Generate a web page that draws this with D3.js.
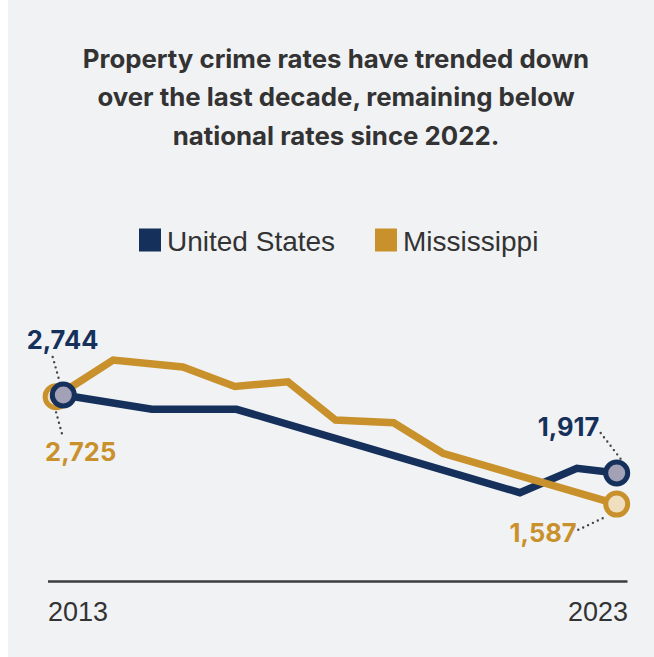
<!DOCTYPE html>
<html>
<head>
<meta charset="utf-8">
<script src="https://cdn.jsdelivr.net/npm/d3@7"></script>
<style>
  html, body { margin: 0; padding: 0; background: #ffffff; }
  svg { display: block; }
</style>
</head>
<body>
<svg id="chart" width="654" height="657"></svg>
<script>
// Property crime rate per 100,000 residents
const titleLines = [
  "Property crime rates have trended down",
  "over the last decade, remaining below",
  "national rates since 2022."
];
const seriesNames = ["United States", "Mississippi"];
const axisYears = [2013, 2023];

// United States: year position and rate at each vertex
const usYears = [2013, 2014.6, 2016.13, 2021.25, 2022.28, 2023];
const usRates = [2744, 2592, 2592, 1708, 1967, 1917];

// Mississippi: year position and rate at each vertex
const msYears = [2012.87, 2013.9, 2015.16, 2016.1, 2017.06, 2017.92, 2018.97, 2019.86, 2023];
const msRates = [2725, 3114, 3040, 2834, 2884, 2478, 2450, 2126, 1587];

const NAVY = "#15305a";
const GOLD = "#c9912b";
const TEXT = "#333333";

const svg = d3.select("#chart");

// panel background
svg.append("rect").attr("x", 8).attr("y", 0).attr("width", 646).attr("height", 657).attr("fill", "#f1f2f4");

// title
const title = svg.append("text")
  .attr("text-anchor", "middle")
  .attr("font-family", "Inter, 'DejaVu Sans', sans-serif")
  .attr("font-weight", 700)
  .attr("font-size", 25.8)
  .attr("fill", TEXT);
titleLines.forEach((t, i) => {
  title.append("tspan").attr("x", 336).attr("y", 67.5 + i * 38.6).text(t);
});

// legend
const legendItems = [
  { name: seriesNames[0], color: NAVY, x: 139 },
  { name: seriesNames[1], color: GOLD, x: 375 }
];
const legend = svg.append("g");
legendItems.forEach(d => {
  legend.append("rect").attr("x", d.x).attr("y", 228.5).attr("width", 22).attr("height", 23).attr("fill", d.color);
  legend.append("text")
    .attr("x", d.x + 28).attr("y", 251)
    .attr("font-family", "'Liberation Sans', Arial, sans-serif")
    .attr("font-size", 28)
    .attr("fill", TEXT)
    .text(d.name);
});

// scales
const x = d3.scaleLinear().domain([2013, 2023]).range([63.3, 616.7]);
const y = d3.scaleLinear().domain([1000, 3000]).range([559.5, 370.8]);

// baseline axis
const axisY = 581.5;
svg.append("line")
  .attr("x1", 48).attr("x2", 627.5).attr("y1", axisY).attr("y2", axisY)
  .attr("stroke", "#3d3d3d").attr("stroke-width", 2.5);
svg.selectAll("text.year")
  .data(axisYears)
  .join("text")
  .attr("class", "year")
  .attr("x", (d, i) => i === 0 ? 48 : 628)
  .attr("y", 620.5)
  .attr("text-anchor", (d, i) => i === 0 ? "start" : "end")
  .attr("font-family", "'Liberation Sans', Arial, sans-serif")
  .attr("font-size", 27)
  .attr("fill", TEXT)
  .text(d => d);

const us = usYears.map((yr, i) => ({ year: yr, rate: usRates[i] }));
const ms = msYears.map((yr, i) => ({ year: yr, rate: msRates[i] }));

const line = d3.line().x(d => x(d.year)).y(d => y(d.rate));

// leader dots from labels to end points
const usFirst = us[0], usLast = us[us.length - 1];
const msFirst = ms[0], msLast = ms[ms.length - 1];
const leaders = [
  { p: usFirst, a: [-10.6, -38], b: [0, 0] },
  { p: msFirst, a: [-4.3, 0], b: [6.7, 40] },
  { p: usLast, a: [-16, -40], b: [4.3, -13.7] },
  { p: msLast, a: [-38.4, 25.7], b: [-10.7, 12.5] }
];
svg.append("g").selectAll("line")
  .data(leaders)
  .join("line")
  .attr("x1", d => x(d.p.year) + d.a[0])
  .attr("y1", d => y(d.p.rate) + d.a[1])
  .attr("x2", d => x(d.p.year) + d.b[0])
  .attr("y2", d => y(d.p.rate) + d.b[1])
  .attr("stroke", "#444")
  .attr("stroke-width", 2.4)
  .attr("stroke-linecap", "round")
  .attr("stroke-dasharray", "0 5.4");

// series lines
svg.append("path").datum(us)
  .attr("d", line).attr("fill", "none")
  .attr("stroke", NAVY).attr("stroke-width", 7.5)
  .attr("stroke-linejoin", "miter");
svg.append("path").datum(ms)
  .attr("d", line).attr("fill", "none")
  .attr("stroke", GOLD).attr("stroke-width", 7.5)
  .attr("stroke-linejoin", "miter");

// end point markers
const markers = [
  { p: msFirst, stroke: GOLD, fill: "#efdfbe" },
  { p: msLast, stroke: GOLD, fill: "#efdfbe" },
  { p: usFirst, stroke: NAVY, fill: "#a2a1b6" },
  { p: usLast, stroke: NAVY, fill: "#a2a1b6" }
];
svg.append("g").selectAll("circle")
  .data(markers)
  .join("circle")
  .attr("cx", d => x(d.p.year))
  .attr("cy", d => y(d.p.rate))
  .attr("r", 11)
  .attr("fill", d => d.fill)
  .attr("stroke", d => d.stroke)
  .attr("stroke-width", 5);

// value labels
const fmt = d3.format(",");
const labels = [
  { p: usFirst, color: NAVY, anchor: "start", dx: -36.6, dy: -45.7 },
  { p: msFirst, color: GOLD, anchor: "start", dx: -11, dy: 64.7 },
  { p: usLast, color: NAVY, anchor: "end", dx: -17.4, dy: -36.7 },
  { p: msLast, color: GOLD, anchor: "end", dx: -40, dy: 38 }
];
svg.append("g").selectAll("text")
  .data(labels)
  .join("text")
  .attr("x", d => x(d.p.year) + d.dx)
  .attr("y", d => y(d.p.rate) + d.dy)
  .attr("text-anchor", d => d.anchor)
  .attr("font-family", "Inter, 'DejaVu Sans', sans-serif")
  .attr("font-weight", 700)
  .attr("font-size", 25.5)
  .attr("fill", d => d.color)
  .text(d => fmt(d.p.rate));
</script>
</body>
</html>
